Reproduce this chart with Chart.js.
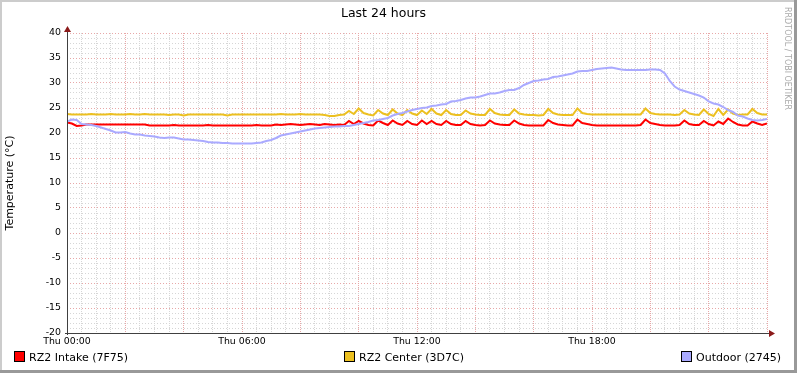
<!DOCTYPE html>
<html>
<head>
<meta charset="utf-8">
<script src="https://cdn.jsdelivr.net/npm/chart.js@4/dist/chart.umd.min.js"></script>
<style>
  body { margin: 0; background: #fff; }
  #wrap { position: relative; width: 797px; height: 373px; }
  #myChart { position: absolute; left: 0; top: 0; }
  .leg { position: absolute; top: 351px; font: 11px "DejaVu Sans", sans-serif; color: #000; white-space: nowrap; line-height: 14px; }
  .leg span { display: inline-block; width: 9px; height: 9px; border: 1px solid #000; vertical-align: -1px; margin-right: 4px; }
</style>
</head>
<body>
<div id="wrap">
  <canvas id="myChart" width="797" height="373"></canvas>
  <div class="leg" style="left:14px"><span style="background:#ff0000"></span>RZ2 Intake (7F75)</div>
  <div class="leg" style="left:344px"><span style="background:#ecc020"></span>RZ2 Center (3D7C)</div>
  <div class="leg" style="left:681px"><span style="background:#aaaaff"></span>Outdoor (2745)</div>
</div>
<script>
// mẫu mỗi 10 phút, từ Thu 00:00 đến 24:00
const stepMinutes = 10;

const intake = [
  22.1, 21.9, 21.4, 21.5, 21.7, 21.7, 21.7, 21.7, 21.7, 21.7, 21.7, 21.7,
  21.7, 21.7, 21.7, 21.7, 21.7, 21.5, 21.5, 21.5, 21.5, 21.5, 21.6, 21.5,
  21.5, 21.5, 21.5, 21.5, 21.5, 21.6, 21.5, 21.5, 21.5, 21.5, 21.5, 21.5,
  21.5, 21.5, 21.5, 21.6, 21.5, 21.5, 21.5, 21.7, 21.6, 21.7, 21.8, 21.7,
  21.6, 21.7, 21.8, 21.7, 21.6, 21.8, 21.7, 21.6, 21.7, 21.6, 22.4, 21.8,
  22.4, 21.9, 21.6, 21.5, 22.5, 22.0, 21.6, 22.5, 21.9, 21.6, 22.4, 21.8,
  21.6, 22.5, 21.8, 22.4, 21.8, 21.6, 22.4, 21.8, 21.6, 21.6, 22.4, 21.8,
  21.6, 21.5, 21.6, 22.5, 21.9, 21.7, 21.6, 21.6, 22.5, 21.9, 21.6, 21.5,
  21.5, 21.5, 21.5, 22.6, 22.0, 21.7, 21.6, 21.5, 21.5, 22.7, 22.0, 21.8,
  21.6, 21.5, 21.5, 21.5, 21.5, 21.5, 21.5, 21.5, 21.5, 21.5, 21.6, 22.7,
  22.0, 21.8, 21.6, 21.5, 21.5, 21.5, 21.6, 22.5, 21.8, 21.6, 21.6, 22.4,
  21.8, 21.5, 22.3, 21.8, 22.9, 22.2, 21.7, 21.5, 21.5, 22.3, 21.9, 21.6,
  21.9
];

const center = [
  23.8, 23.7, 23.7, 23.7, 23.7, 23.8, 23.7, 23.7, 23.7, 23.8, 23.7, 23.7,
  23.7, 23.8, 23.7, 23.7, 23.8, 23.7, 23.7, 23.7, 23.7, 23.6, 23.7, 23.7,
  23.5, 23.7, 23.7, 23.7, 23.7, 23.7, 23.7, 23.7, 23.7, 23.5, 23.7, 23.7,
  23.7, 23.7, 23.7, 23.7, 23.7, 23.7, 23.7, 23.7, 23.8, 23.7, 23.7, 23.7,
  23.8, 23.7, 23.7, 23.7, 23.7, 23.6, 23.4, 23.4, 23.6, 23.7, 24.4, 23.8,
  24.9, 24.0, 23.7, 23.5, 24.6, 23.9, 23.6, 24.7, 23.9, 23.6, 24.6, 23.9,
  23.6, 24.5, 23.8, 24.8, 23.9, 23.6, 24.6, 23.8, 23.6, 23.6, 24.5, 23.9,
  23.7, 23.6, 23.6, 24.8, 24.0, 23.7, 23.6, 23.6, 24.7, 23.9, 23.7, 23.6,
  23.6, 23.5, 23.6, 24.8, 24.0, 23.7, 23.6, 23.6, 23.6, 24.9, 24.0, 23.8,
  23.7, 23.7, 23.7, 23.7, 23.7, 23.7, 23.7, 23.7, 23.7, 23.7, 23.7, 24.9,
  24.0, 23.8, 23.7, 23.7, 23.7, 23.6, 23.7, 24.6, 23.9, 23.7, 23.6, 24.7,
  23.8, 23.4, 24.8, 23.6, 24.7, 23.9, 23.6, 23.7, 23.7, 24.8, 24.0, 23.7,
  23.7
];

const outdoor = [
  22.3, 22.7, 22.6, 21.8, 21.7, 21.6, 21.4, 21.1, 20.8, 20.5, 20.1, 20.1,
  20.2, 19.9, 19.7, 19.7, 19.5, 19.4, 19.3, 19.1, 19.0, 19.1, 19.1, 18.9,
  18.7, 18.7, 18.6, 18.5, 18.4, 18.2, 18.1, 18.1, 18.0, 18.0, 17.9, 17.9,
  17.9, 17.9, 17.9, 18.0, 18.1, 18.4, 18.6, 19.0, 19.5, 19.7, 19.9, 20.1,
  20.3, 20.5, 20.7, 20.9, 21.0, 21.1, 21.2, 21.3, 21.3, 21.4, 21.4, 21.6,
  21.8, 22.0, 22.2, 22.5, 22.6, 22.8, 23.0, 23.5, 23.8, 24.0, 24.3, 24.6,
  24.8, 25.0, 25.1, 25.4, 25.5, 25.7, 25.8, 26.3, 26.4, 26.6, 26.9, 27.1,
  27.1, 27.3, 27.6, 27.9, 27.9, 28.1, 28.4, 28.6, 28.6, 29.0, 29.6, 30.0,
  30.4, 30.5, 30.7, 30.8, 31.2, 31.3, 31.5, 31.7, 31.9, 32.3, 32.4, 32.4,
  32.6, 32.8, 32.9, 33.0, 33.1, 32.9, 32.7, 32.6, 32.6, 32.6, 32.6, 32.6,
  32.7, 32.7, 32.6, 31.9, 30.4, 29.3, 28.7, 28.4, 28.1, 27.8, 27.5, 27.1,
  26.3, 25.9, 25.7, 25.2, 24.6, 24.2, 23.5, 23.3, 22.9, 22.6, 22.5, 22.6,
  22.8
];

const xTickLabels = ["Thu 00:00", "Thu 06:00", "Thu 12:00", "Thu 18:00"];

const toPoints = (arr) => arr.map((v, i) => ({ x: (i * stepMinutes) / 60, y: v }));

Chart.defaults.font.family = "'DejaVu Sans', sans-serif";
Chart.defaults.color = "#000";

const minorGrid = "#d6d6d6";
const majorGrid = "#e8a8a8";

// khung, mũi tên trục và chữ RRDTOOL
const rrdDecor = {
  id: "rrdDecor",
  beforeDraw(chart) {
    const c = chart.ctx;
    c.save();
    c.fillStyle = "#fff";
    c.fillRect(0, 0, chart.width, chart.height);
    c.restore();
  },
  afterDatasetsDraw(chart) {
    const c = chart.ctx;
    const a = chart.chartArea;
    c.save();
    c.strokeStyle = "#404040";
    c.lineWidth = 1;
    c.beginPath();
    c.moveTo(a.left + 0.5, a.bottom + 2);
    c.lineTo(a.left + 0.5, a.top - 4);
    c.moveTo(a.left - 2, a.bottom + 0.5);
    c.lineTo(a.right + 4, a.bottom + 0.5);
    c.stroke();
    c.fillStyle = "#8b1a1a";
    c.beginPath();
    c.moveTo(a.left + 0.5, a.top - 7);
    c.lineTo(a.left - 3, a.top - 1);
    c.lineTo(a.left + 4, a.top - 1);
    c.closePath();
    c.fill();
    c.beginPath();
    c.moveTo(a.right + 8, a.bottom + 0.5);
    c.lineTo(a.right + 2, a.bottom - 3);
    c.lineTo(a.right + 2, a.bottom + 4);
    c.closePath();
    c.fill();
    c.restore();
  },
  afterDraw(chart) {
    const c = chart.ctx;
    c.save();
    c.translate(chart.width - 10, 7);
    c.rotate(Math.PI / 2);
    c.font = "8px 'DejaVu Sans'";
    c.fillStyle = "#aaaaaa";
    c.textBaseline = "middle";
    c.fillText("RRDTOOL / TOBI OETIKER", 0, 0);
    c.restore();
    // viền
    c.save();
    c.fillStyle = "#cccccc";
    c.fillRect(0, 0, chart.width, 2);
    c.fillRect(0, 0, 2, chart.height);
    c.fillStyle = "#999999";
    c.fillRect(0, chart.height - 3, chart.width, 3);
    c.fillRect(chart.width - 3, 0, 3, chart.height);
    c.restore();
  }
};

const ctx = document.getElementById("myChart").getContext("2d");

const myChart = new Chart(ctx, {
  type: "line",
  data: {
    datasets: [
      {
        label: "RZ2 Intake (7F75)",
        data: toPoints(intake),
        borderColor: "#ff0000",
        borderWidth: 2,
        pointRadius: 0,
        tension: 0,
        order: 2
      },
      {
        label: "RZ2 Center (3D7C)",
        data: toPoints(center),
        borderColor: "#ecc020",
        borderWidth: 2,
        pointRadius: 0,
        tension: 0,
        order: 1
      },
      {
        label: "Outdoor (2745)",
        data: toPoints(outdoor),
        borderColor: "#aaaaff",
        borderWidth: 2,
        pointRadius: 0,
        tension: 0,
        order: 0
      }
    ]
  },
  options: {
    responsive: false,
    animation: false,
    events: [],
    layout: { padding: { left: 0, right: 30, top: 0, bottom: 0 } },
    plugins: {
      legend: { display: false },
      tooltip: { enabled: false },
      title: {
        display: true,
        text: "Last 24 hours",
        font: { size: 12.5, weight: "normal" },
        color: "#000",
        padding: { top: 6, bottom: 12 }
      }
    },
    scales: {
      x: {
        type: "linear",
        min: 0,
        max: 24,
        afterFit: (scale) => { scale.height = 40; },
        ticks: {
          stepSize: 0.5,
          autoSkip: false,
          maxRotation: 0,
          padding: 3,
          font: { size: 9.4 },
          color: "#000",
          callback: (v) => (v % 6 === 0 && v < 24 ? xTickLabels[v / 6] : "")
        },
        grid: {
          drawTicks: false,
          lineWidth: 1,
          color: (c) => (c.tick && c.tick.value % 2 === 0 ? majorGrid : minorGrid)
        },
        border: { display: false, dash: [1, 1] }
      },
      y: {
        min: -20,
        max: 40,
        afterFit: (scale) => { scale.width = 67; },
        title: {
          display: true,
          text: "Temperature (°C)",
          font: { size: 11 },
          color: "#000",
          padding: { top: 4, bottom: 0 }
        },
        ticks: {
          stepSize: 1,
          autoSkip: false,
          padding: 6,
          font: { size: 9.4 },
          color: "#000",
          callback: (v) => (v % 5 === 0 ? String(v) : "")
        },
        grid: {
          drawTicks: false,
          lineWidth: 1,
          color: (c) => (c.tick && c.tick.value % 5 === 0 ? majorGrid : minorGrid)
        },
        border: { display: false, dash: [1, 2] }
      }
    }
  },
  plugins: [rrdDecor]
});
</script>
</body>
</html>
